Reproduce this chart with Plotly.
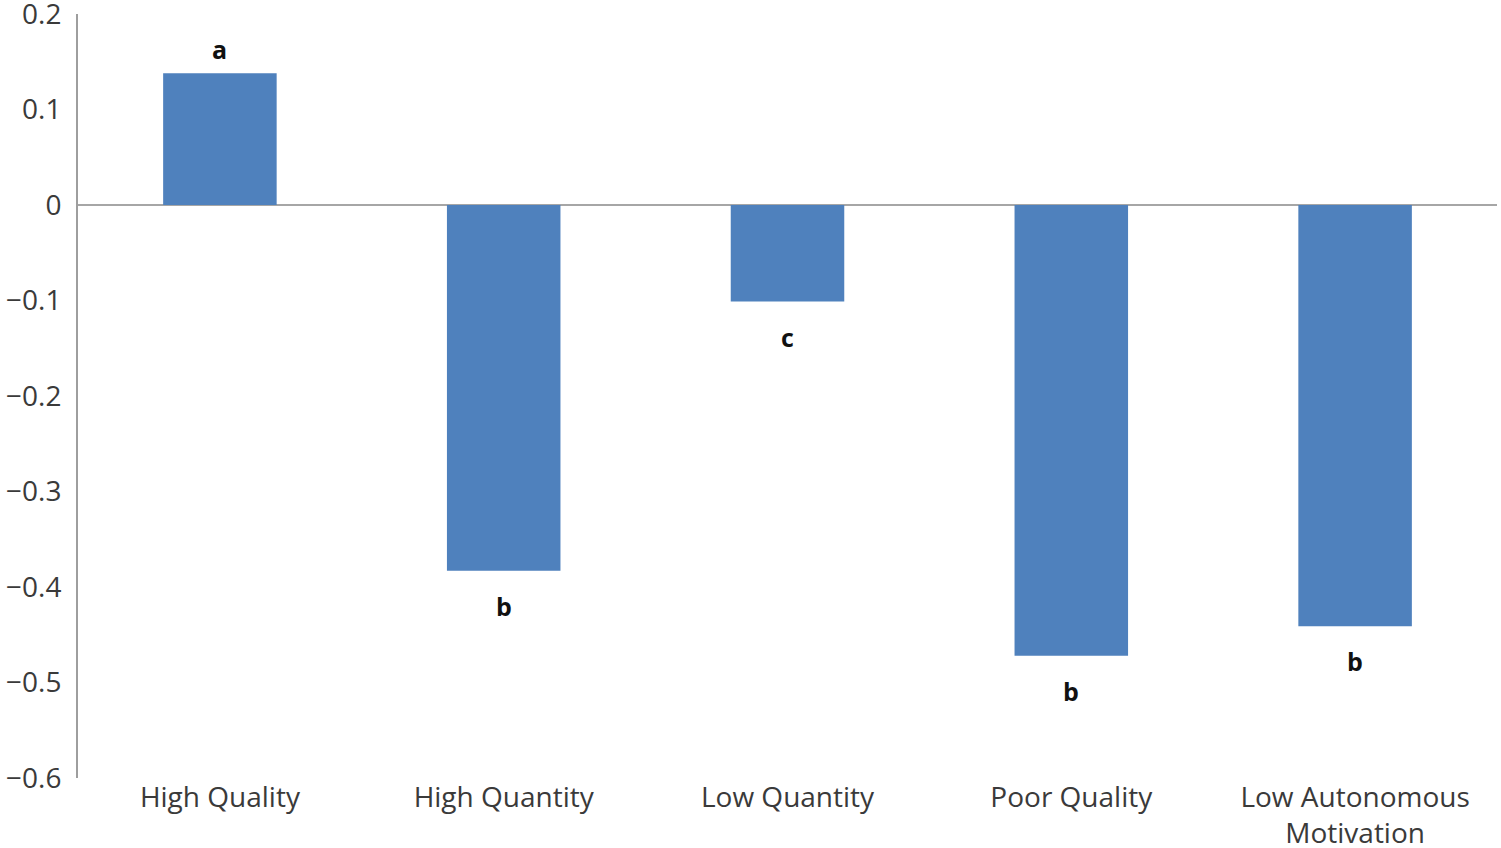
import plotly.graph_objects as go

categories = ["High Quality", "High Quantity", "Low Quantity", "Poor Quality", "Low Autonomous<br>Motivation"]
values = [0.138, -0.383, -0.101, -0.472, -0.441]
letters = ["a", "b", "c", "b", "b"]
tick_vals = [0.2, 0.1, 0, -0.1, -0.2, -0.3, -0.4, -0.5, -0.6]
tick_text = ["0.2", "0.1", "0", "\u22120.1", "\u22120.2", "\u22120.3", "\u22120.4", "\u22120.5", "\u22120.6"]

FONT = "Open Sans, Noto Sans, sans-serif"

fig = go.Figure()
fig.add_trace(go.Bar(
    x=categories, y=values, width=0.4,
    marker=dict(color="#4F81BD", line=dict(width=0)),
))

for c, v, l in zip(categories, values, letters):
    fig.add_annotation(
        x=c, y=v, text="<b>%s</b>" % l, showarrow=False,
        yanchor="bottom" if v > 0 else "top",
        yshift=5 if v > 0 else -16,
        font=dict(family=FONT, size=25, color="#111111"),
    )

fig.update_layout(
    width=1501, height=848,
    margin=dict(l=78, r=4, t=14, b=70),
    paper_bgcolor="white", plot_bgcolor="white",
    showlegend=False,
    font=dict(family=FONT, size=28, color="#3a3a3a"),
)
fig.update_yaxes(
    range=[-0.6, 0.2001],
    tickvals=tick_vals, ticktext=tick_text,
    showgrid=False, showline=True, linecolor="#9e9e9e", linewidth=2,
    zeroline=True, zerolinecolor="#a6a6a6", zerolinewidth=2,
    ticks="", ticklabelstandoff=9, automargin=False,
    ticklabeloverflow="allow",
)
fig.update_xaxes(showline=False, showgrid=False, ticks="", automargin=False, ticklabelstandoff=0)

fig.write_html(
    "out.html",
    config={"displayModeBar": False},
    post_script="document.body.style.margin='0';document.body.style.overflow='hidden';",
)
